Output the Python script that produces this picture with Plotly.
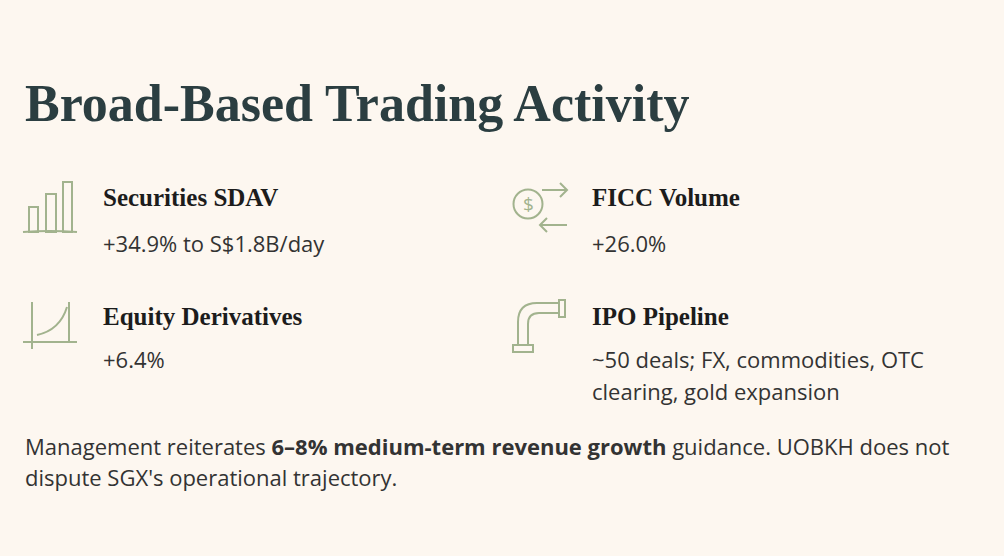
import plotly.graph_objects as go

W, H = 1004, 556
BG = "#FDF7F0"
GREEN = "#A2B38E"
TITLE_C = "#2B3E41"
HEAD_C = "#1C1C1C"
BODY_C = "#333333"
SERIF = "Liberation Serif"
SANS = "Open Sans"

# content
title = "Broad-Based Trading Activity"
metric_names = ["Securities SDAV", "FICC Volume", "Equity Derivatives", "IPO Pipeline"]
metric_details = [
    ["+34.9% to S$1.8B/day"],
    ["+26.0%"],
    ["+6.4%"],
    ["~50 deals; FX, commodities, OTC", "clearing, gold expansion"],
]
metric_icons = ["bars", "fx", "curve", "pipe"]
footer_lines = [
    "Management reiterates <b>6–8% medium-term revenue growth</b> guidance. UOBKH does not",
    "dispute SGX's operational trajectory.",
]

# layout grid (pixels)
col_text_x = [103, 592]
col_icon_x = [23, 512]
row_head_y = [197, 316]
row_detail_y = [243, 359]
row_icon_y = [180, 300]
detail_line = 32

fig = go.Figure()
shapes = []
annotations = []


def line(x0, y0, x1, y1):
    shapes.append(dict(type="line", x0=x0, y0=y0, x1=x1, y1=y1,
                       line=dict(color=GREEN, width=2)))


def rect(x0, y0, x1, y1):
    shapes.append(dict(type="rect", x0=x0, y0=y0, x1=x1, y1=y1,
                       line=dict(color=GREEN, width=2), fillcolor="rgba(0,0,0,0)"))


def path(d):
    shapes.append(dict(type="path", path=d, line=dict(color=GREEN, width=2),
                       fillcolor="rgba(0,0,0,0)"))


def draw_icon(kind, ox, oy):
    if kind == "bars":
        rect(ox + 6, oy + 27, ox + 15, oy + 52)
        rect(ox + 23, oy + 14, ox + 33, oy + 52)
        rect(ox + 40, oy + 2, ox + 49, oy + 52)
        path(f"M {ox},{oy + 52} Q {ox + 27},{oy + 50} {ox + 54},{oy + 52}")
    elif kind == "curve":
        line(ox + 9, oy + 2, ox + 9, oy + 49)
        line(ox, oy + 42, ox + 54, oy + 42)
        line(ox + 46, oy + 2, ox + 46, oy + 42)
        path(f"M {ox + 14},{oy + 35} Q {ox + 37},{oy + 30} {ox + 44},{oy + 7}")
    elif kind == "fx":
        cx, cy, r = ox + 16, oy + 24, 14.5
        shapes.append(dict(type="circle", x0=cx - r, y0=cy - r, x1=cx + r, y1=cy + r,
                           line=dict(color=GREEN, width=2)))
        annotations.append(dict(x=cx, y=cy, text="$", showarrow=False,
                                font=dict(family=SANS, size=19, color=GREEN),
                                xanchor="center", yanchor="middle"))
        line(ox + 30, oy + 10, ox + 55, oy + 10)
        path(f"M {ox + 48},{oy + 3} L {ox + 55},{oy + 10} L {ox + 48},{oy + 17}")
        line(ox + 28, oy + 45, ox + 55, oy + 45)
        path(f"M {ox + 35},{oy + 38} L {ox + 28},{oy + 45} L {ox + 35},{oy + 52}")
    elif kind == "pipe":
        rect(ox + 47, oy, ox + 53, oy + 17)
        rect(ox + 1, oy + 45, ox + 21, oy + 52)
        path(f"M {ox + 6},{oy + 45} L {ox + 6},{oy + 22} Q {ox + 6},{oy + 3} {ox + 25},{oy + 3} L {ox + 47},{oy + 3}")
        path(f"M {ox + 16},{oy + 45} L {ox + 16},{oy + 24} Q {ox + 16},{oy + 13} {ox + 27},{oy + 13} L {ox + 47},{oy + 13}")


def text(x, y, s, family, size, color):
    annotations.append(dict(x=x, y=y, text=s, showarrow=False, xanchor="left",
                            yanchor="middle", font=dict(family=family, size=size, color=color)))


text(23, 103, f"<b>{title}</b>", SERIF, 52, TITLE_C)

for i, (name, details, icon) in enumerate(zip(metric_names, metric_details, metric_icons)):
    row, col = divmod(i, 2)
    draw_icon(icon, col_icon_x[col], row_icon_y[row])
    text(col_text_x[col] - 2, row_head_y[row], f"<b>{name}</b>", SERIF, 25, HEAD_C)
    for j, d in enumerate(details):
        text(col_text_x[col] - 2, row_detail_y[row] + j * detail_line, d, SANS, 22, BODY_C)

for j, s in enumerate(footer_lines):
    text(23, 446 + j * 31, s, SANS, 22, BODY_C)

fig.update_layout(
    width=W, height=H,
    margin=dict(l=0, r=0, t=0, b=0),
    paper_bgcolor=BG, plot_bgcolor=BG,
    xaxis=dict(range=[0, W], visible=False, fixedrange=True),
    yaxis=dict(range=[H, 0], visible=False, fixedrange=True),
    shapes=shapes, annotations=annotations,
    showlegend=False,
)

fig.write_html("out.html", config={"displayModeBar": False},
               post_script=f"document.body.style.margin='0';document.body.style.background='{BG}';")
